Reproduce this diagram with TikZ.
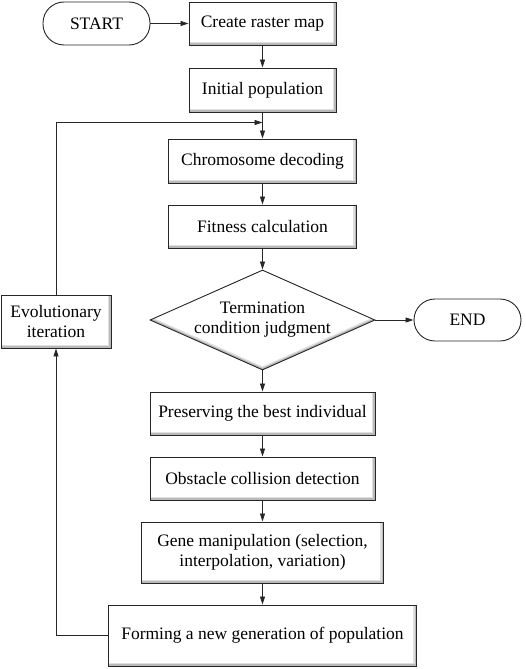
\documentclass[tikz,border=0pt]{standalone}
\usepackage{fontspec}
\setmainfont{Liberation Serif}
\usetikzlibrary{shapes.geometric,arrows.meta}
\tikzset{
  bevel/.style={path picture={
    \fill[gray!55] (path picture bounding box.south west) rectangle (path picture bounding box.north east);
    \fill[gray!25] ([shift={(0.8pt,-0.8pt)}]path picture bounding box.north west) rectangle ([shift={(-2pt,2pt)}]path picture bounding box.south east);
    \fill[white] ([shift={(0.8pt,-0.8pt)}]path picture bounding box.north west) rectangle ([shift={(-3.2pt,3.2pt)}]path picture bounding box.south east);
  }},
  box/.style={draw=black!85, line width=0.9pt, rectangle, bevel, align=center, inner sep=2pt,
    font=\fontsize{17.5pt}{20.5pt}\selectfont},
  term/.style={draw=black!85, line width=0.9pt, rectangle, rounded corners=21pt, align=center,
    font=\fontsize{17.5pt}{20.5pt}\selectfont, fill=white},
  decision/.style={draw=black!85, line width=0.9pt, diamond, aspect=2.25, align=center, inner sep=0pt,
    font=\fontsize{17.5pt}{20pt}\selectfont,
    path picture={
      \fill[gray!55] (path picture bounding box.south west) rectangle (path picture bounding box.north east);
      \fill[gray!25] ([yshift=2pt]path picture bounding box.north) -- ([yshift=2pt]path picture bounding box.east) -- ([yshift=2pt]path picture bounding box.south) -- ([yshift=2pt]path picture bounding box.west) -- cycle;
      \fill[white] ([yshift=3.5pt]path picture bounding box.north) -- ([yshift=3.5pt]path picture bounding box.east) -- ([yshift=3.5pt]path picture bounding box.south) -- ([yshift=3.5pt]path picture bounding box.west) -- cycle;
    }},
  arr/.style={draw=black!85, line width=0.8pt, -{Triangle[length=8pt,width=5pt]}},
  ln/.style={draw=black!85, line width=0.8pt}
}
\begin{document}
\begin{tikzpicture}[x=1pt,y=-1pt]
\useasboundingbox[fill=white] (0,0) rectangle (526,669);

\node[term, minimum width=107pt, minimum height=43pt] (start) at (96.5,23.5) {START};
\node[box, minimum width=147pt, minimum height=43pt] (create) at (262.5,23.5) {Create raster map};
\node[box, minimum width=147pt, minimum height=44pt] (init) at (262.5,90) {Initial population};
\node[box, minimum width=188pt, minimum height=44pt] (chrom) at (262.5,161) {Chromosome decoding};
\node[box, minimum width=188pt, minimum height=43pt] (fit) at (262.5,226.5) {Fitness calculation};
\node[decision, minimum width=225pt, minimum height=100pt] (judge) at (262.5,320) {Termination\\condition judgment};
\node[term, minimum width=107pt, minimum height=42pt] (end) at (467.5,320) {END};
\node[box, minimum width=110pt, minimum height=53pt] (evo) at (56,321.5) {Evolutionary\\iteration};
\node[box, minimum width=225pt, minimum height=43pt] (pres) at (262.5,413.5) {Preserving the best individual};
\node[box, minimum width=225pt, minimum height=43pt] (obst) at (262.5,478.5) {Obstacle collision detection};
\node[box, minimum width=242pt, minimum height=61pt] (gene) at (262.5,552.5) {Gene manipulation (selection,\\interpolation, variation)};
\node[box, minimum width=308pt, minimum height=61pt] (form) at (262.5,635.5) {Forming a new generation of population};

\coordinate (merge) at (262.5,122.5);

\draw[arr] (start) -- (create);
\draw[arr] (create) -- (init);
\draw[arr] (init) -- (chrom);
\draw[arr] (chrom) -- (fit);
\draw[arr] (fit) -- (judge);
\draw[arr] (judge) -- (end);
\draw[arr] (judge) -- (pres);
\draw[arr] (pres) -- (obst);
\draw[arr] (obst) -- (gene);
\draw[arr] (gene) -- (form);
\draw[arr] (form.west) -| (evo.south);
\draw[arr] (evo.north) |- (merge);
\end{tikzpicture}
\end{document}
